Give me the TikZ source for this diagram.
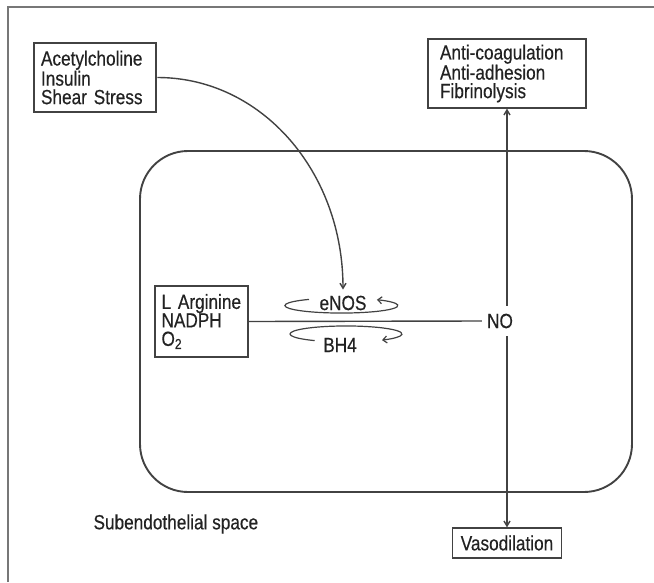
\documentclass[tikz,border=0pt]{standalone}
\usepackage{fontspec}
\setmainfont{Liberation Sans}[FakeStretch=0.84,FakeBold=0.4]
\usetikzlibrary{positioning,arrows.meta}
\definecolor{linegray}{HTML}{424242}
\definecolor{framegray}{HTML}{777777}
\definecolor{inkgray}{HTML}{222222}
\newcommand{\labelfont}{\fontsize{20.5}{18.5}\selectfont}
\tikzset{
  textbox/.style={draw=linegray, line width=1.3pt, align=left, inner ysep=0pt, text=inkgray, font=\labelfont},
  plain/.style={text=inkgray, font=\labelfont},
  link/.style={draw=linegray, line width=1.4pt},
  cycarrow/.style={draw=linegray, line width=1.2pt, -{Straight Barb[length=4pt,width=7pt]}},
}

\begin{document}
\begin{tikzpicture}[x=1pt,y=-1pt,>={Straight Barb[length=5pt,width=6pt]}]
\useasboundingbox (0,0) rectangle (654,582);
%% frame and cell
\draw[framegray, line width=2.4pt] (8,582) -- (8,7) -- (654,7);
\draw[linegray, line width=1.9pt, rounded corners=48pt] (140,151) rectangle (632,492);
%the nodes
\node[textbox, line width=2.8pt, inner xsep=7pt, text width=108pt, minimum height=69pt] (agonists) at (95,77.5) {Acetylcholine\\Insulin\\Shear Stress};
\node[textbox, inner xsep=12pt, text width=134pt, minimum height=69pt] (anti) at (507,73.5) {Anti-coagulation\\Anti-adhesion\\Fibrinolysis};
\node[textbox, inner xsep=6.5pt, text width=80pt, minimum height=71pt] (larg) at (201.5,321.5) {L Arginine\\NADPH\\O\textsubscript{2}};
\node[textbox, minimum width=109pt, minimum height=30pt] (vaso) at (507,543) {Vasodilation};
\node[plain, inner xsep=5pt, inner ysep=8pt] (no) at (500,321) {NO};
\node[plain, inner xsep=3pt, inner ysep=6pt] (enos) at (343,303) {eNOS};
\node[plain] (bh4) at (340,345) {BH4};
\node[plain, anchor=west] (subspace) at (90,524) {Subendothelial space};
%drawings of lines
\draw[link, ->] (agonists.east) .. controls +(104,0) and +(0,-118) .. (enos.north);
\draw[link] (larg.east) -- (no.west);
\draw[link, ->] (anti.south |- no.north) -- (anti.south);
\draw[link, ->] (anti.south |- no.south) -- (vaso.north);
%% the two cycles
\draw[cycarrow] ([shift={(-34,-3.6)}]enos.center) arc[start angle=235, end angle=-51, x radius=56.5, y radius=7.5];
\draw[cycarrow] ([shift={(-25.3,-4.4)}]bh4.center) arc[start angle=124, end angle=410, x radius=56, y radius=8];
\end{tikzpicture}
\end{document}
